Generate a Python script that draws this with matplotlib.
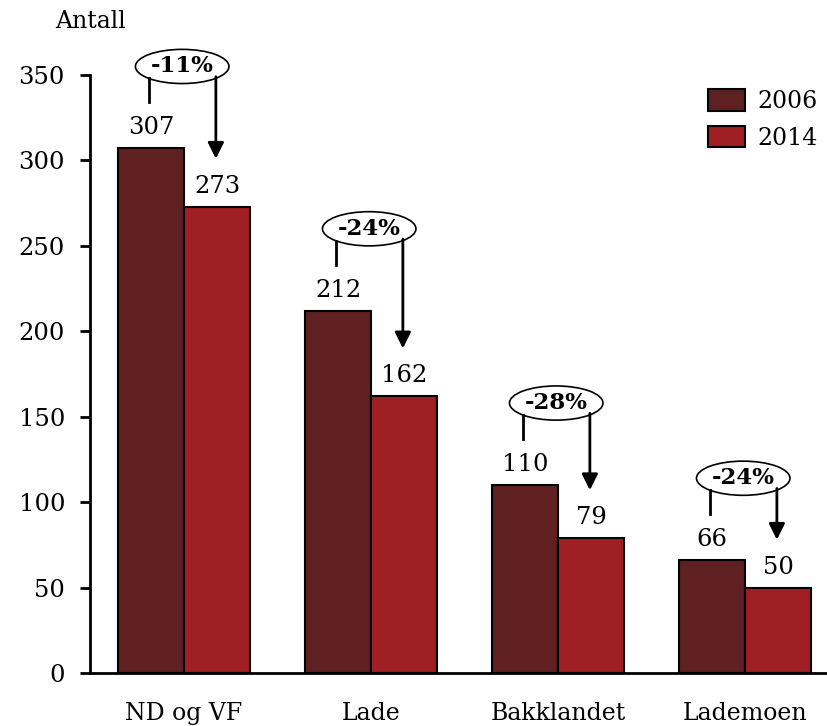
import matplotlib.pyplot as plt
from matplotlib.patches import Ellipse

plt.rcParams['font.family'] = ['DejaVu Serif']

areas = ['ND og VF', 'Lade', 'Bakklandet', 'Lademoen']
v2006 = [307, 212, 110, 66]
v2014 = [273, 162, 79, 50]
pct = ['-11%', '-24%', '-28%', '-24%']

c2006 = '#5E2020'
c2014 = '#A01F22'

fig = plt.figure(figsize=(8.27, 7.26), dpi=100)
ax = fig.add_axes([90/827, 1-673/726, 1-90/827, (673-75)/726])

w = 0.353
x = range(len(areas))
b1 = ax.bar([i - w/2 for i in x], v2006, w, color=c2006, edgecolor='black', lw=1.5, label='2006')
b2 = ax.bar([i + w/2 for i in x], v2014, w, color=c2014, edgecolor='black', lw=1.5, label='2014')

for i in x:
    ax.text(i - w/2, v2006[i] + 12, str(v2006[i]), ha='center', va='center', fontsize=17.5)
    ax.text(i + w/2, v2014[i] + 12, str(v2014[i]), ha='center', va='center', fontsize=17.5)
    # change bubble
    cy = v2006[i] + 48
    ax.add_patch(Ellipse((i - 0.01, cy), 0.5, 20, facecolor='white', edgecolor='black', lw=1.2, clip_on=False))
    ax.text(i - 0.01, cy, pct[i], ha='center', va='center', fontsize=16.5, fontweight='bold')
    ax.plot([i - 0.19, i - 0.19], [v2006[i] + 27, v2006[i] + 41], color='black', lw=2, clip_on=False)
    ax.annotate('', xy=(i + 0.17, v2014[i] + 28), xytext=(i + 0.17, v2006[i] + 42),
                arrowprops=dict(arrowstyle='-|>', color='black', lw=2, mutation_scale=24, shrinkA=0, shrinkB=0),
                annotation_clip=False)

ax.set_xlim(-0.503, 3.438)
ax.set_ylim(0, 350)
ax.set_yticks(range(0, 351, 50))
ax.set_xticks(list(x))
ax.set_xticklabels(areas)
ax.tick_params(axis='y', length=7, width=2, labelsize=17.5, pad=11)
ax.tick_params(axis='x', length=0, labelsize=17, pad=21)
for s in ['top', 'right']:
    ax.spines[s].set_visible(False)
ax.spines['left'].set_linewidth(2)
ax.spines['bottom'].set_linewidth(2)

fig.text(55/827, 1-21/726, 'Antall', fontsize=17, va='center', ha='left')

fig.legend(handles=[b1, b2], loc='upper right', bbox_to_anchor=(1.0, 1-80/726), frameon=False,
           fontsize=17, handlelength=1.6, handleheight=1.0, labelspacing=0.55, handletextpad=0.5, borderaxespad=0)

fig.savefig('out.png', dpi=100)
